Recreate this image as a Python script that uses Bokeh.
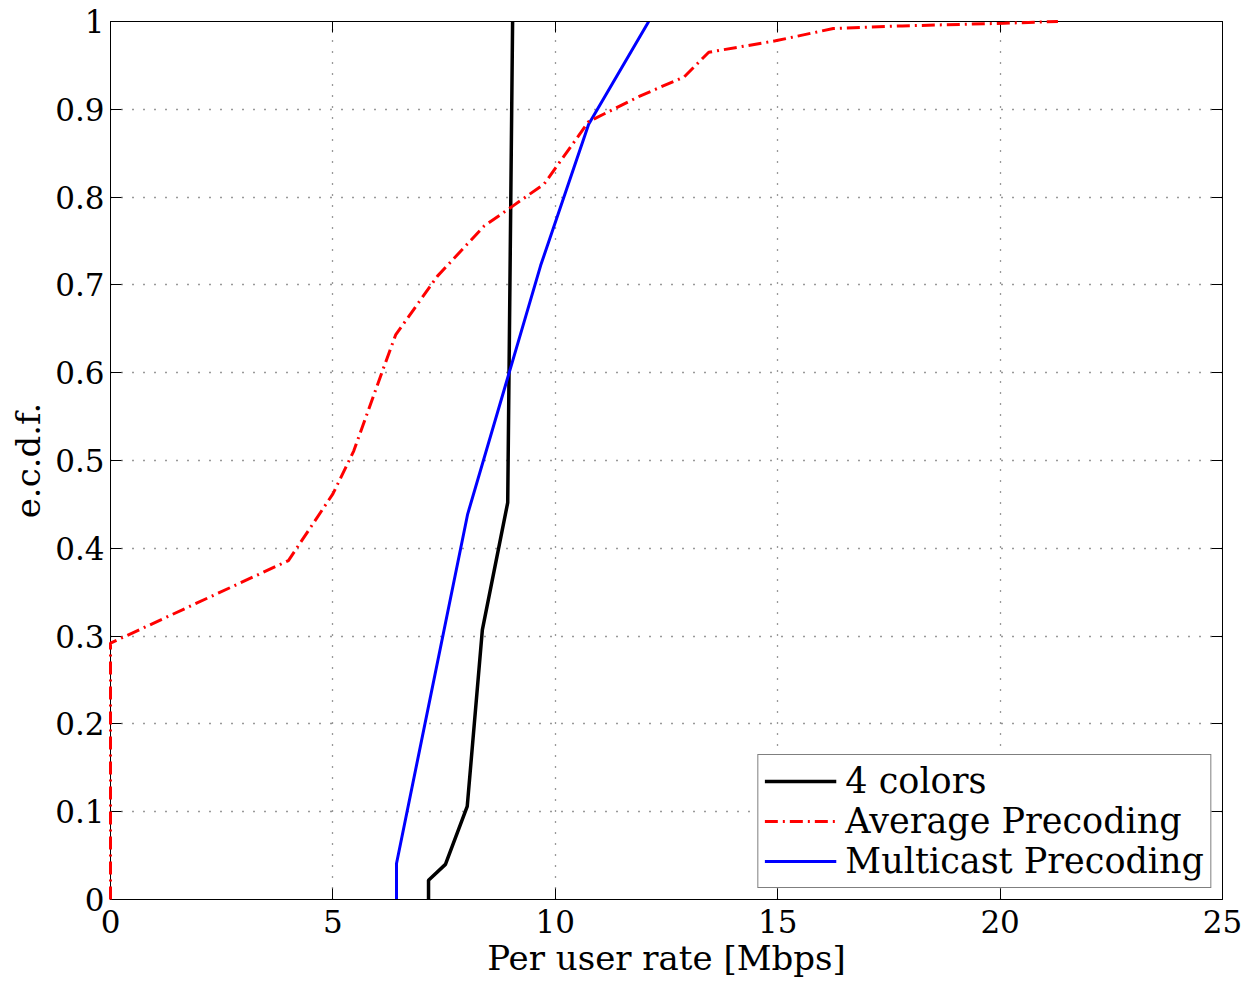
from bokeh.plotting import figure
from bokeh.models import LinearAxis, Range1d, Legend, LegendItem, FixedTicker
from bokeh.embed import file_html
from bokeh.resources import INLINE

# ---- data ----
four_x = [7.15, 7.15, 7.53, 8.02, 8.36, 8.93, 9.04]
four_y = [0.0, 0.022, 0.04, 0.106, 0.307, 0.452, 1.0]

avg_x = [0.0, 0.0, 4.0, 5.0, 5.47, 6.1, 6.41, 7.35, 8.4, 9.05, 9.75, 10.75,
         11.9, 12.9, 13.45, 14.95, 16.25, 17.8, 20.1, 21.3]
avg_y = [0.0, 0.292, 0.386, 0.462, 0.511, 0.6, 0.643, 0.71, 0.767, 0.79, 0.815,
         0.886, 0.915, 0.937, 0.965, 0.978, 0.992, 0.995, 0.998, 1.0]

multi_x = [6.43, 6.43, 8.03, 9.67, 10.75, 12.1]
multi_y = [0.0, 0.041, 0.439, 0.722, 0.883, 1.0]

x_ticks = [0, 5, 10, 15, 20, 25]
y_ticks = [0, 0.1, 0.2, 0.3, 0.4, 0.5, 0.6, 0.7, 0.8, 0.9, 1.0]
y_tick_labels = ["0", "0.1", "0.2", "0.3", "0.4", "0.5", "0.6", "0.7", "0.8", "0.9", "1"]
x_tick_labels = ["0", "5", "10", "15", "20", "25"]

series_names = ["4 colors", "Average Precoding", "Multicast Precoding"]

FONT = "DejaVu Serif"

p = figure(width=1244, height=983, x_range=Range1d(0, 25), y_range=Range1d(0, 1),
           output_backend="svg", toolbar_location=None,
           min_border_left=110, min_border_right=22, min_border_top=21, min_border_bottom=84)

p.background_fill_color = "white"
p.border_fill_color = "white"
p.outline_line_color = "black"
p.outline_line_width = 1

# main axes
p.xaxis.ticker = FixedTicker(ticks=x_ticks)
p.yaxis.ticker = FixedTicker(ticks=y_ticks)
p.xaxis.major_label_overrides = {t: l for t, l in zip(x_ticks, x_tick_labels)}
p.yaxis.major_label_overrides = {t: l for t, l in zip(y_ticks, y_tick_labels)}
for ax in (p.xaxis[0], p.yaxis[0]):
    ax.major_tick_in = 11
    ax.major_tick_out = 0
    ax.minor_tick_in = 0
    ax.minor_tick_out = 0
    ax.axis_line_color = "black"
    ax.major_tick_line_color = "black"
    ax.major_label_text_font = FONT
    ax.major_label_text_font_size = "31px"
    ax.major_label_text_color = "black"
    ax.axis_label_text_font = FONT
    ax.axis_label_text_font_size = "34px"
    ax.axis_label_text_font_style = "normal"
    ax.axis_label_text_color = "black"
p.xaxis.axis_label = "Per user rate [Mbps]"
p.yaxis.axis_label = "e.c.d.f."
p.xaxis.major_label_standoff = 10
p.yaxis.major_label_standoff = 6
p.xaxis.axis_label_standoff = 2
p.yaxis.axis_label_standoff = 4

# box-style axes on right and top (ticks only, no labels)
right_ax = LinearAxis(ticker=FixedTicker(ticks=y_ticks),
                      major_label_overrides={t: "" for t in y_ticks},
                      major_tick_in=11, major_tick_out=0, minor_tick_in=0, minor_tick_out=0,
                      major_label_standoff=0, axis_line_color="black")
top_ax = LinearAxis(ticker=FixedTicker(ticks=x_ticks),
                    major_label_overrides={t: "" for t in x_ticks},
                    major_tick_in=11, major_tick_out=0, minor_tick_in=0, minor_tick_out=0,
                    major_label_standoff=0, axis_line_color="black")
p.add_layout(right_ax, "right")
p.add_layout(top_ax, "above")

# grid
for g in (p.xgrid[0], p.ygrid[0]):
    g.grid_line_color = "black"
    g.grid_line_dash = "1 10"
    g.grid_line_width = 1.3
    g.grid_line_alpha = 0.8

r_four = p.line(four_x, four_y, line_color="black", line_width=3.5)
r_avg = p.line(avg_x, avg_y, line_color="#ff0000", line_width=3, line_dash="13 5 2 5",
               level="overlay")
r_multi = p.line(multi_x, multi_y, line_color="#0000ff", line_width=3)

legend = Legend(items=[LegendItem(label=series_names[0], renderers=[r_four]),
                       LegendItem(label=series_names[1], renderers=[r_avg]),
                       LegendItem(label=series_names[2], renderers=[r_multi])],
                location="bottom_right")
legend.border_line_color = "black"
legend.border_line_width = 1.5
legend.background_fill_color = "white"
legend.background_fill_alpha = 1
legend.label_text_font = FONT
legend.label_text_font_size = "35px"
legend.label_text_color = "black"
legend.label_text_line_height = 1.0
legend.glyph_width = 72
legend.glyph_height = 30
legend.label_height = 30
legend.spacing = 0
legend.padding = 6
legend.margin = 11
legend.label_standoff = 9
p.add_layout(legend)

open("out.html", "w").write(file_html(p, INLINE))
